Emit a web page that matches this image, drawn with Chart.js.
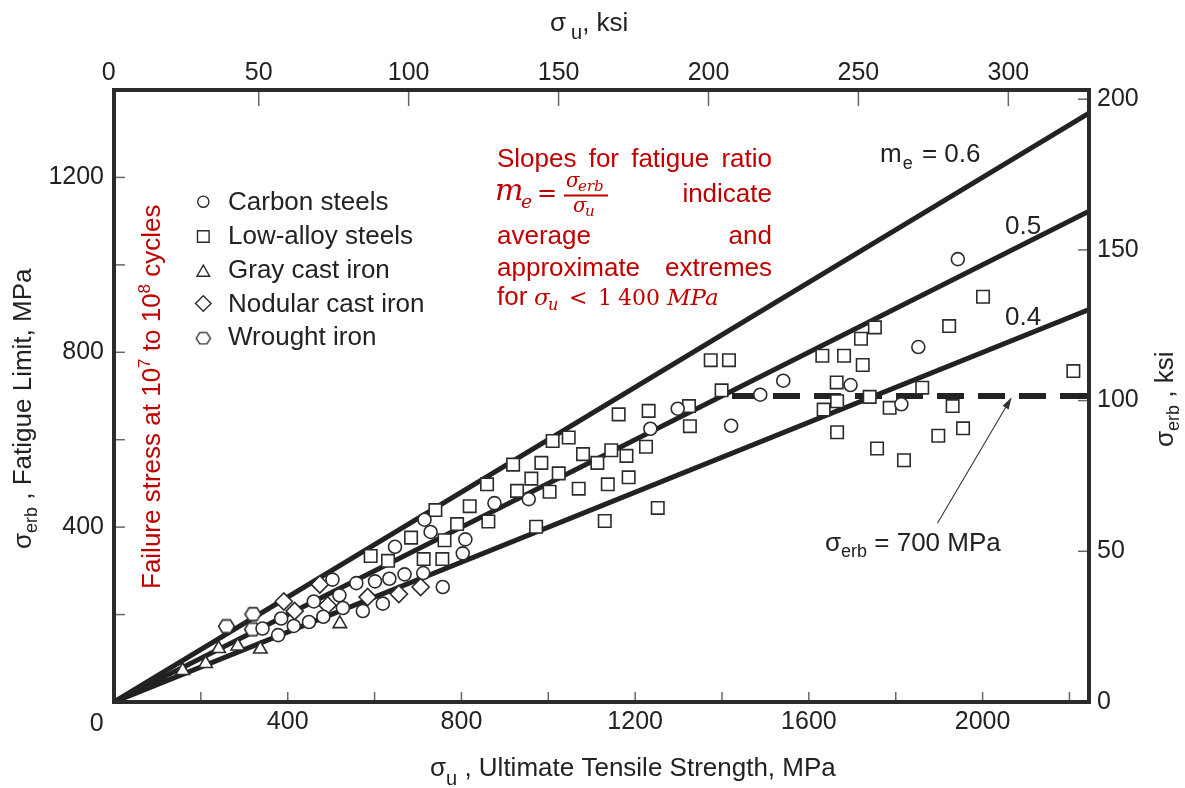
<!DOCTYPE html>
<html><head><meta charset="utf-8">
<script src="https://cdn.jsdelivr.net/npm/chart.js@4.4.1/dist/chart.umd.min.js"></script>
<style>html,body{margin:0;padding:0;background:#fff;}#wrap{width:1185px;height:788px;position:relative;}</style>
</head><body><div id="wrap"><canvas id="c"></canvas></div>
<script>
// ---- data (sigma_u MPa, sigma_erb MPa) ----
const carbonSteels = [[342,168],[378,153],[385,191],[414,174],[449,183],[460,230],[482,195],[503,280],[519,244],[527,215],[558,272],[573,208],[601,276],[619,225],[634,282],[647,355],[669,292],[712,295],[715,417],[729,389],[757,263],[803,340],[809,372],[876,455],[955,464],[1235,625],[1298,671],[1421,632],[1488,703],[1541,735],[1696,725],[1813,681],[1852,812],[1943,1013]];
const lowAlloySteels = [[591,334],[631,323],[684,376],[713,327],[740,439],[756,327],[761,370],[790,407],[819,448],[859,498],[862,413],[919,543],[928,483],[961,511],[972,401],[984,547],[1003,481],[1010,597],[1024,523],[1047,605],[1070,488],[1080,567],[1113,547],[1130,414],[1137,498],[1145,576],[1162,658],[1180,563],[1185,514],[1225,584],[1231,666],[1252,444],[1324,677],[1326,631],[1374,782],[1399,713],[1416,782],[1631,792],[1634,669],[1664,731],[1665,688],[1665,617],[1681,792],[1720,831],[1724,771],[1740,698],[1752,857],[1757,580],[1786,673],[1819,553],[1861,719],[1898,609],[1923,860],[1931,677],[1955,626],[2001,927],[2209,757]];
const grayCastIron = [[158,72],[211,88],[241,122],[285,128],[337,121],[520,179]];
const nodularCastIron = [[391,230],[416,208],[474,269],[492,221],[584,240],[656,247],[706,263]];
const wroughtIron = [[259,173],[319,166],[320,201]];
const seriesNames = ['Carbon steels','Low-alloy steels','Gray cast iron','Nodular cast iron','Wrought iron'];
const ratioSlopes = [0.6, 0.5, 0.4];
const ratioLabels = ['m_e = 0.6', '0.5', '0.4'];
const enduranceCap = 700;          // MPa, dashed line
// axis ranges and ticks
const X_MIN = 0, X_MAX = 2245;     // MPa
const Y_MIN = 0, Y_MAX = 1400;     // MPa
const MPA_PER_KSI = 6.894757;
const KSI_TOP_MIN = 1.73, KSI_TOP_MAX = 326.9;
const xTicks = [0,200,400,600,800,1000,1200,1400,1600,1800,2000,2200];
const xTickLabels = [400,800,1200,1600,2000];
const yTicks = [0,200,400,600,800,1000,1200,1400];
const yTickLabels = [400,800,1200];
const ksiTopTicks = [0,50,100,150,200,250,300];
const ksiRightTicks = [0,50,100,150,200];

const SANS = '"Liberation Sans", Arial, Helvetica, sans-serif';
const SERIF = '"DejaVu Serif", "Liberation Serif", serif';
const INK = '#222';
const RED = '#c00000';
const MARK = '#2b2b2b';

function hexImage(w, h, lw) {
  const c = document.createElement('canvas'); c.width = w; c.height = h;
  const g = c.getContext('2d');
  const cx = w/2, cy = h/2, rx = w/2 - lw, ry = h/2 - lw;
  g.beginPath();
  g.moveTo(cx - rx, cy); g.lineTo(cx - rx/2, cy - ry); g.lineTo(cx + rx/2, cy - ry);
  g.lineTo(cx + rx, cy); g.lineTo(cx + rx/2, cy + ry); g.lineTo(cx - rx/2, cy + ry);
  g.closePath(); g.fillStyle = '#fff'; g.fill();
  g.lineWidth = lw; g.strokeStyle = MARK; g.stroke();
  return c;
}
const hexMarker = hexImage(19, 16, 1.6);
const hexLegend = hexImage(17, 14, 1.4);

const toXY = arr => arr.map(p => ({x: p[0], y: p[1]}));
const markerBase = {type:'scatter', xAxisID:'x', yAxisID:'y', order:0,
  pointBackgroundColor:'#fff', pointBorderColor:MARK, pointBorderWidth:1.6, pointHoverRadius:0};

const datasets = [
  Object.assign({}, markerBase, {label:seriesNames[0], data:toXY(carbonSteels), pointStyle:'circle', pointRadius:6.5}),
  Object.assign({}, markerBase, {label:seriesNames[1], data:toXY(lowAlloySteels), pointStyle:'rect', pointRadius:8.8}),
  Object.assign({}, markerBase, {label:seriesNames[2], data:toXY(grayCastIron), pointStyle:'triangle', pointRadius:7.8}),
  Object.assign({}, markerBase, {label:seriesNames[3], data:toXY(nodularCastIron), pointStyle:'rectRot', pointRadius:8.6}),
  Object.assign({}, markerBase, {label:seriesNames[4], data:toXY(wroughtIron), pointStyle:hexMarker, pointRadius:8}),
];
ratioSlopes.forEach((m, i) => {
  datasets.push({type:'scatter', label:ratioLabels[i], xAxisID:'x', yAxisID:'y', order:1, showLine:true,
    data:[{x:X_MIN, y:0}, {x:X_MAX, y:m*X_MAX}], borderColor:INK, borderWidth:5, pointRadius:0, pointHoverRadius:0});
});
datasets.push({type:'scatter', label:'sigma_erb = 700 MPa', xAxisID:'x', yAxisID:'y', order:1, showLine:true,
  data:[{x:enduranceCap/ratioSlopes[1], y:enduranceCap}, {x:X_MAX, y:enduranceCap}],
  borderColor:INK, borderWidth:6, borderDash:[27,14], borderDashOffset:31, pointRadius:0, pointHoverRadius:0});

function rich(ctx, x, y, parts, rot) {
  ctx.save(); ctx.translate(x, y); if (rot) ctx.rotate(rot);
  let cx = 0;
  parts.forEach(p => { ctx.font = p.f; ctx.fillText(p.t, cx, p.dy || 0); cx += ctx.measureText(p.t).width + (p.gap || 0); });
  ctx.restore();
}
function justified(ctx, words, x0, x1, y) {
  const w = words.map(s => ctx.measureText(s).width);
  const gap = (x1 - x0 - w.reduce((a,b)=>a+b,0)) / (words.length - 1);
  let x = x0; words.forEach((s,i) => { ctx.fillText(s, x, y); x += w[i] + gap; });
}
function legendMarker(ctx, kind, x, y) {
  ctx.save(); ctx.fillStyle = '#fff'; ctx.strokeStyle = MARK; ctx.lineWidth = 1.4; ctx.beginPath();
  if (kind === 0) { ctx.arc(x, y, 5.6, 0, Math.PI*2); }
  else if (kind === 1) { ctx.rect(x-5.8, y-5.8, 11.6, 11.6); }
  else if (kind === 2) { ctx.moveTo(x, y-6.3); ctx.lineTo(x+6.3, y+4.7); ctx.lineTo(x-6.3, y+4.7); ctx.closePath(); }
  else if (kind === 3) { ctx.moveTo(x, y-7.8); ctx.lineTo(x+7.8, y); ctx.lineTo(x, y+7.8); ctx.lineTo(x-7.8, y); ctx.closePath(); }
  if (kind === 4) { ctx.drawImage(hexLegend, x - 8.5, y - 7); }
  else { ctx.fill(); ctx.stroke(); }
  ctx.restore();
}

const overlay = {
  id: 'overlay',
  afterDatasetsDraw(chart) {
    const {ctx, chartArea: a, scales} = chart;
    ctx.save();
    // inward tick marks
    ctx.strokeStyle = '#666'; ctx.lineWidth = 1.5;
    const seg = (x1,y1,x2,y2) => { ctx.beginPath(); ctx.moveTo(x1,y1); ctx.lineTo(x2,y2); ctx.stroke(); };
    scales.x.ticks.forEach(t => { const p = scales.x.getPixelForValue(t.value); if (p > a.left+3 && p < a.right-3) seg(p, a.bottom, p, a.bottom-10); });
    scales.y.ticks.forEach(t => { const p = scales.y.getPixelForValue(t.value); if (p > a.top+3 && p < a.bottom-3) seg(a.left, p, a.left+11, p); });
    scales.x2.ticks.forEach(t => { const p = scales.x2.getPixelForValue(t.value); if (p > a.left+3 && p < a.right-3) seg(p, a.top, p, a.top+16); });
    scales.y2.ticks.forEach(t => { const p = scales.y2.getPixelForValue(t.value); if (p > a.top+3 && p < a.bottom-3) seg(a.right, p, a.right-11, p); });
    // frame
    ctx.strokeStyle = '#2b2b2b'; ctx.lineWidth = 4;
    ctx.strokeRect(a.left, a.top, a.right - a.left, a.bottom - a.top);
    ctx.restore();
  },
  afterDraw(chart) {
    const {ctx, scales} = chart;
    ctx.save();
    ctx.textBaseline = 'alphabetic'; ctx.textAlign = 'left'; ctx.fillStyle = INK;
    const f26 = '26px ' + SANS, f18 = '18px ' + SANS, f20 = '20px ' + SANS;
    // corner zero
    ctx.font = '25px ' + SANS; ctx.textAlign = 'center'; ctx.fillText('0', 96.7, 731); ctx.textAlign = 'left';
    // axis titles
    rich(ctx, 550, 31, [{t:'σ', f:f26, gap:5}, {t:'u', f:f20, dy:8}, {t:', ksi', f:f26}]);
    rich(ctx, 430, 776, [{t:'σ', f:f26}, {t:'u', f:f20, dy:9}, {t:' , Ultimate Tensile Strength, MPa', f:f26}]);
    rich(ctx, 31, 549, [{t:'σ', f:f26}, {t:'erb', f:f18, dy:6}, {t:' , Fatigue Limit, MPa', f:f26}], -Math.PI/2);
    rich(ctx, 1173, 447, [{t:'σ', f:f26}, {t:'erb', f:f18, dy:6}, {t:' , ksi', f:f26}], -Math.PI/2);
    // legend
    seriesNames.forEach((n, i) => {
      const cy = [201.7, 236.5, 271.5, 303.5, 338.3][i];
      const by = [210, 243.6, 278.3, 311.7, 345][i];
      legendMarker(ctx, i, 203.3, cy);
      ctx.fillStyle = INK; ctx.font = f26; ctx.fillText(n, 228, by);
    });
    // ratio line labels
    rich(ctx, 880, 162, [{t:'m', f:f26, gap:1}, {t:'e', f:f18, dy:7, gap:2}, {t:' = 0.6', f:f26}]);
    ctx.font = f26; ctx.fillText(ratioLabels[1], 1005, 234); ctx.fillText(ratioLabels[2], 1005, 325);
    // endurance cap label + arrow
    rich(ctx, 825, 551, [{t:'σ', f:f26}, {t:'erb', f:f18, dy:6}, {t:' = 700 MPa', f:f26}]);
    const tx = scales.x.getPixelForValue(2067), ty = scales.y.getPixelForValue(697);
    const sx = scales.x.getPixelForValue(1896), sy = scales.y.getPixelForValue(409);
    const ang = Math.atan2(ty - sy, tx - sx);
    ctx.strokeStyle = '#333'; ctx.lineWidth = 1.1;
    ctx.beginPath(); ctx.moveTo(sx, sy); ctx.lineTo(tx - 9*Math.cos(ang), ty - 9*Math.sin(ang)); ctx.stroke();
    ctx.fillStyle = '#333'; ctx.beginPath(); ctx.moveTo(tx, ty);
    ctx.lineTo(tx - 12*Math.cos(ang) + 3.5*Math.sin(ang), ty - 12*Math.sin(ang) - 3.5*Math.cos(ang));
    ctx.lineTo(tx - 12*Math.cos(ang) - 3.5*Math.sin(ang), ty - 12*Math.sin(ang) + 3.5*Math.cos(ang));
    ctx.closePath(); ctx.fill();
    // red notes
    ctx.fillStyle = RED; ctx.strokeStyle = RED;
    ctx.font = f26;
    justified(ctx, ['Slopes','for','fatigue','ratio'], 497, 772, 167);
    justified(ctx, ['average','and'], 497, 772, 243.5);
    justified(ctx, ['approximate','extremes'], 497, 772, 275.5);
    ctx.textAlign = 'right'; ctx.fillText('indicate', 772, 201.5); ctx.textAlign = 'left';
    ctx.fillText('for', 497, 305);
    const it = s => 'italic ' + s + 'px ' + SERIF, up = s => s + 'px ' + SERIF;
    ctx.font = it(30); ctx.fillText('m', 495, 200);
    ctx.font = it(19); ctx.fillText('e', 521, 208);
    ctx.font = up(24); ctx.fillText('=', 537, 201);
    ctx.font = it(20); ctx.fillText('σ', 566, 187);
    ctx.font = it(15); ctx.fillText('erb', 578, 191);
    ctx.lineWidth = 2; ctx.beginPath(); ctx.moveTo(564, 195.5); ctx.lineTo(608, 195.5); ctx.stroke();
    ctx.font = it(20); ctx.fillText('σ', 573, 212);
    ctx.font = it(15); ctx.fillText('u', 585, 216);
    ctx.font = it(23); ctx.fillText('σ', 534, 305);
    ctx.font = it(16); ctx.fillText('u', 548, 310);
    ctx.font = up(22); ctx.fillText('<', 569, 305);
    ctx.fillText('1', 598, 305); ctx.fillText('400', 618, 305);
    ctx.font = it(23); ctx.fillText('MPa', 667, 305);
    rich(ctx, 160, 589, [{t:'Failure stress at 10', f:f26}, {t:'7', f:'17px ' + SANS, dy:-10}, {t:' to 10', f:f26}, {t:'8', f:'17px ' + SANS, dy:-10}, {t:' cycles', f:f26}], -Math.PI/2);
    ctx.restore();
  }
};

const tickFont = {family: SANS, size: 25};
new Chart(document.getElementById('c'), {
  type: 'scatter',
  data: {datasets},
  options: {
    responsive: true, maintainAspectRatio: false, animation: false, devicePixelRatio: 1,
    layout: {padding: 0},
    plugins: {legend: {display: false}, tooltip: {enabled: false}},
    scales: {
      x: {type:'linear', axis:'x', position:'bottom', min:X_MIN, max:X_MAX,
        afterBuildTicks: s => { s.ticks = xTicks.map(v => ({value:v})); },
        afterFit: s => { s.height = 86; },
        ticks: {autoSkip:false, maxRotation:0, padding:5, color:INK, font:tickFont, callback: v => xTickLabels.includes(v) ? String(v) : ''},
        grid: {display:false, drawTicks:false}, border: {display:false}},
      x2: {type:'linear', axis:'x', position:'top', min:KSI_TOP_MIN, max:KSI_TOP_MAX,
        afterBuildTicks: s => { s.ticks = ksiTopTicks.map(v => ({value:v})); },
        afterFit: s => { s.height = 90; },
        ticks: {autoSkip:false, maxRotation:0, padding:2, color:INK, font:tickFont, callback: v => String(v)},
        grid: {display:false, drawTicks:false}, border: {display:false}},
      y: {type:'linear', axis:'y', position:'left', min:Y_MIN, max:Y_MAX,
        afterBuildTicks: s => { s.ticks = yTicks.map(v => ({value:v})); },
        afterFit: s => { s.width = 114; },
        ticks: {autoSkip:false, padding:10, color:INK, font:tickFont, callback: v => yTickLabels.includes(v) ? String(v) : ''},
        grid: {display:false, drawTicks:false}, border: {display:false}},
      y2: {type:'linear', axis:'y', position:'right', min:Y_MIN / MPA_PER_KSI, max:Y_MAX / MPA_PER_KSI,
        afterBuildTicks: s => { s.ticks = ksiRightTicks.map(v => ({value:v})); },
        afterFit: s => { s.width = 96; },
        ticks: {autoSkip:false, padding:8, color:INK, font:tickFont, callback: v => String(v)},
        grid: {display:false, drawTicks:false}, border: {display:false}}
    }
  },
  plugins: [overlay]
});
</script>
</body></html>
